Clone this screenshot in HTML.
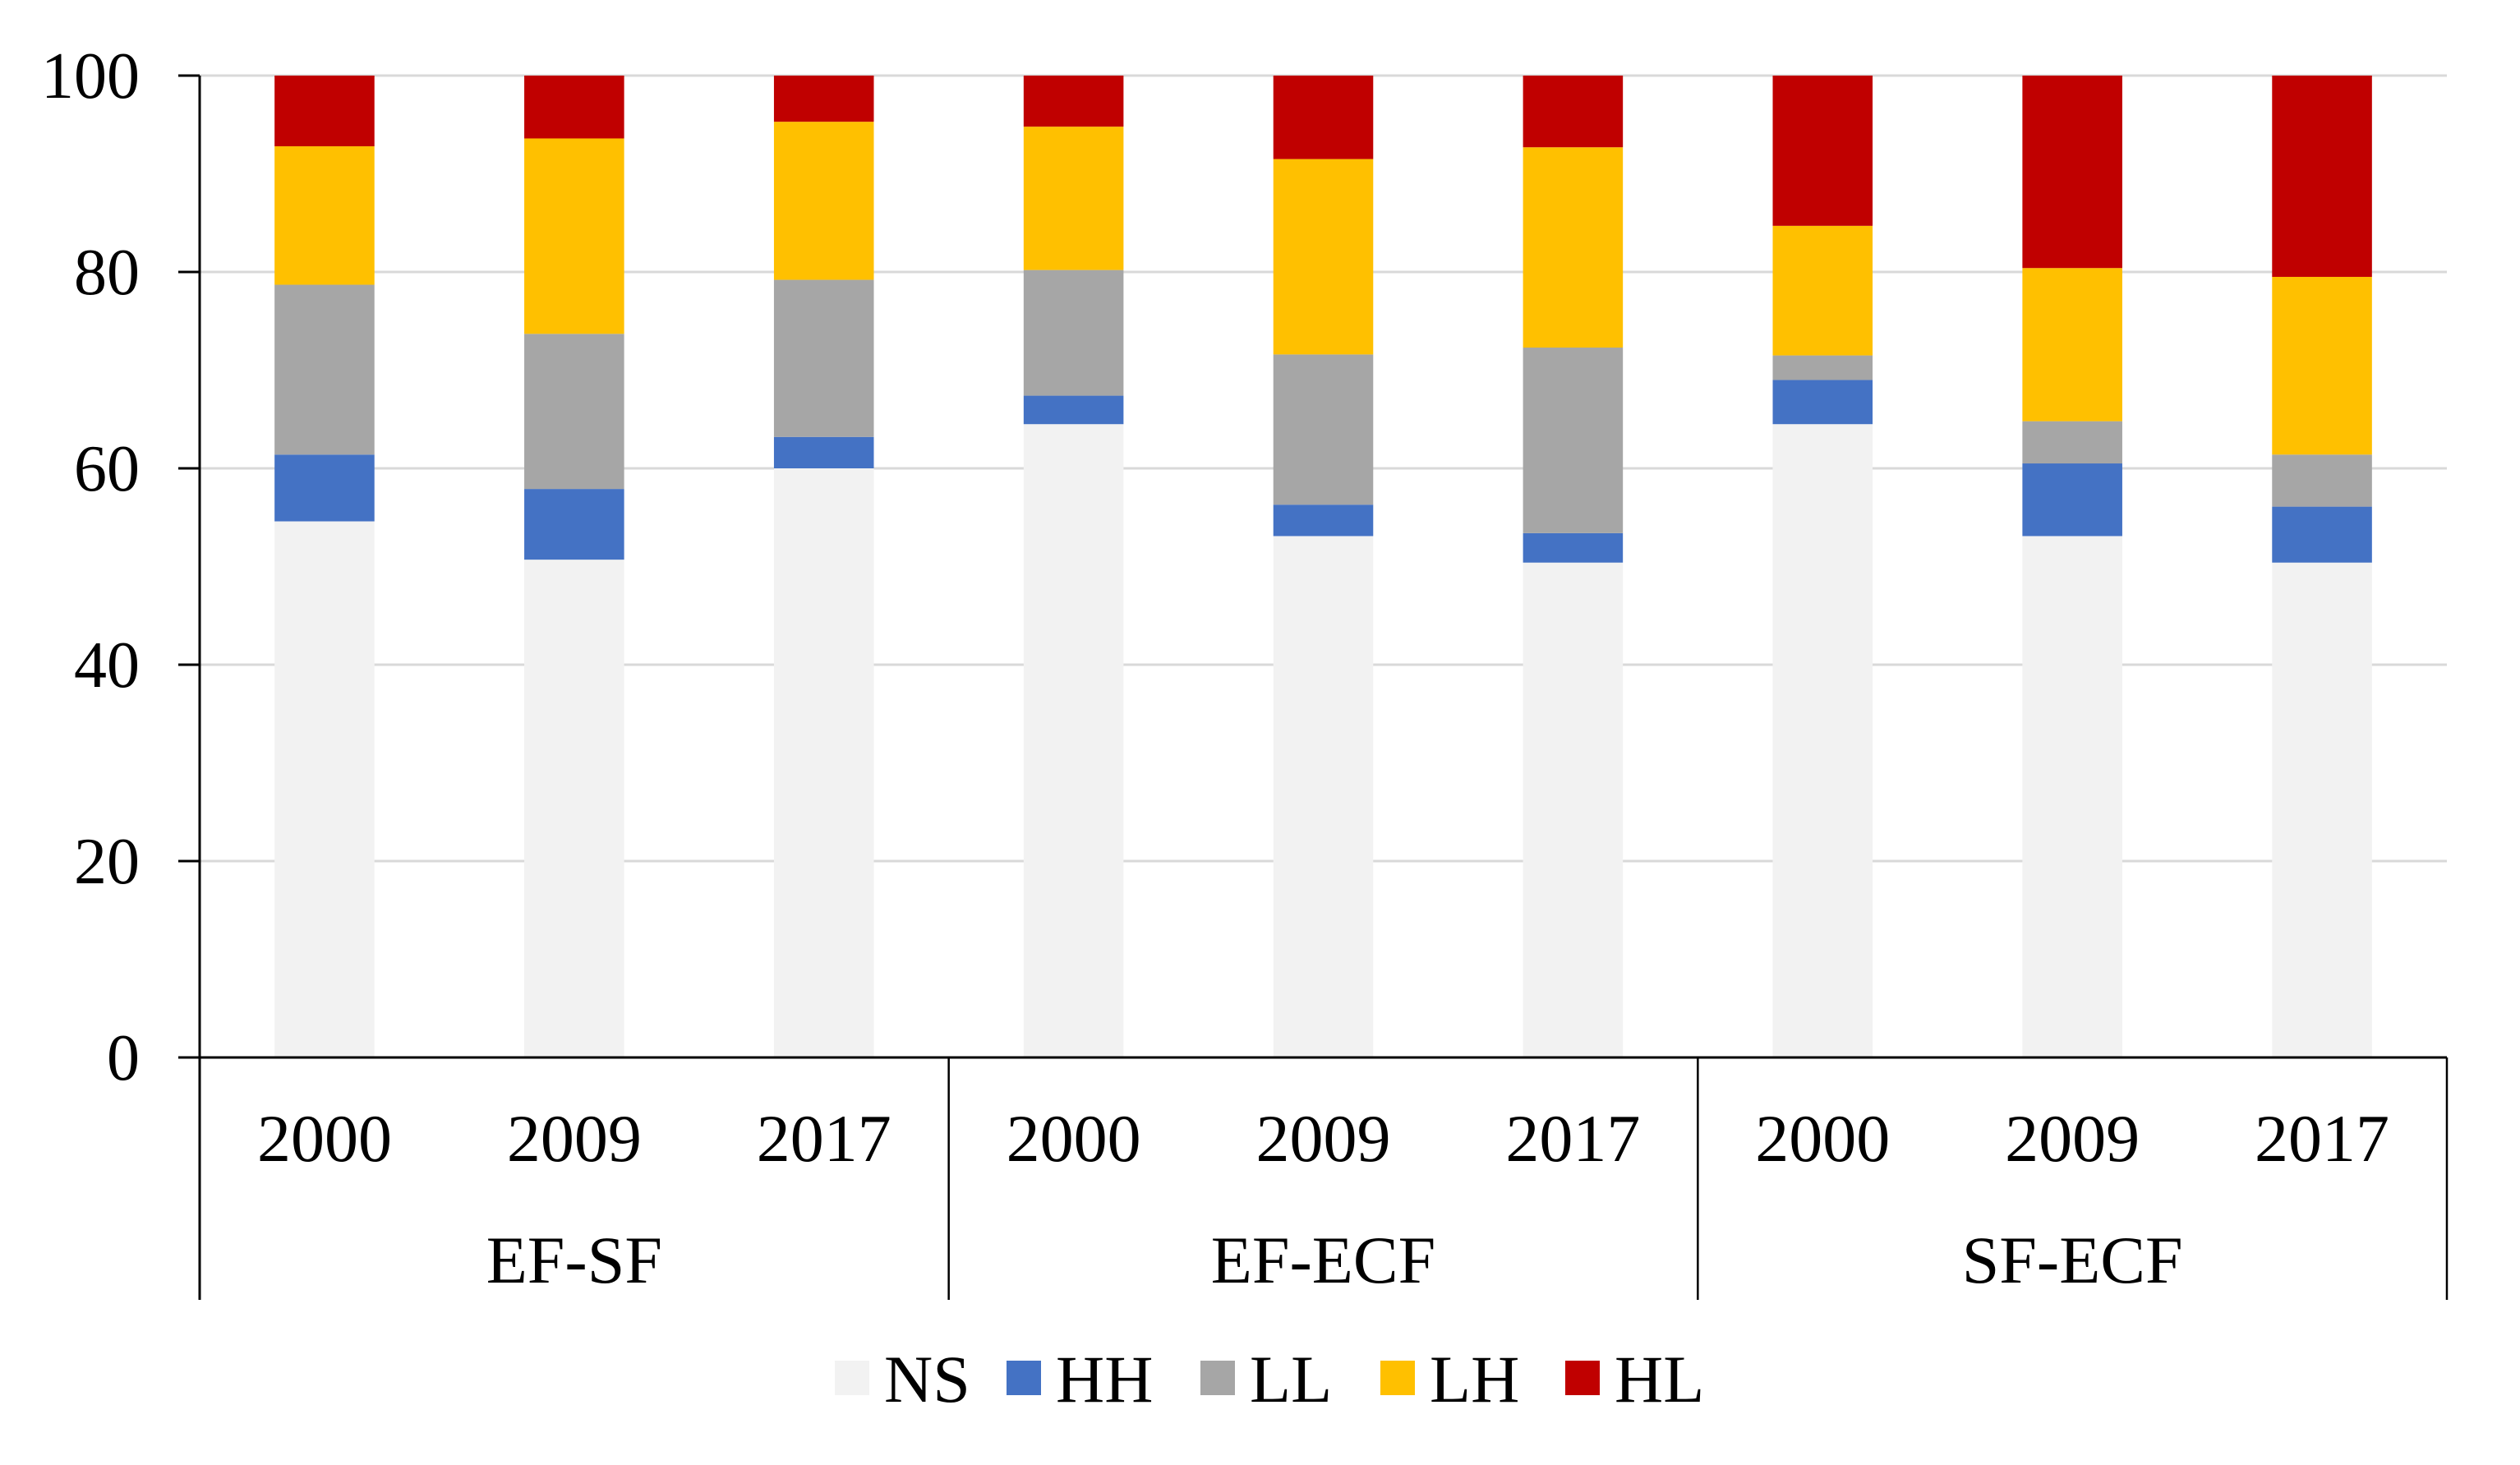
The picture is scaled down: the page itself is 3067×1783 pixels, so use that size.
<!DOCTYPE html>
<html><head><meta charset="utf-8"><style>
html,body{margin:0;padding:0;background:#fff;}
svg{display:block;font-family:"Liberation Serif",serif;}
</style></head><body>
<svg id="chart" width="3067" height="1783" viewBox="0 0 3067 1783">
<g id="grid"></g>
<g id="bars"></g>
<g id="axes"></g>
<g id="legend"></g>
</svg>
<script>
const groups = ["EF-SF","EF-ECF","SF-ECF"];
const years = ["2000","2009","2017"];
const seriesNames = ["NS","HH","LL","LH","HL"];
const seriesColors = ["#f2f2f2","#4472c4","#a6a6a6","#ffc000","#c00000"];
const NS = [54.6,50.7,60.0, 64.5,53.1,50.4, 64.5,53.1,50.4];
const HH = [6.8,7.2,3.2, 2.9,3.2,3.0, 4.5,7.4,5.7];
const LL = [17.3,15.8,16.0, 12.8,15.3,18.9, 2.5,4.3,5.3];
const LH = [14.1,19.9,16.1, 14.6,19.9,20.4, 13.2,15.6,18.1];
const HL = [7.2,6.4,4.7, 5.2,8.5,7.3, 15.3,19.6,20.5];
const yTicks = [0,20,40,60,80,100];

const NSx="http://www.w3.org/2000/svg";
const X0=243,X1=2978,Y0=1287,Y100=92,BOT=1582;
const nCat=9, catW=(X1-X0)/nCat, barW=catW*0.4;
function y(v){return Y0-(Y0-Y100)*v/100;}
function xc(i){return X0+catW*(i+0.5);}
function mk(tag,attrs,parent){const e=document.createElementNS(NSx,tag);for(const k in attrs)e.setAttribute(k,attrs[k]);parent.appendChild(e);return e;}
const grid=document.getElementById('grid'),bars=document.getElementById('bars'),axes=document.getElementById('axes'),legend=document.getElementById('legend');

yTicks.forEach(t=>{
  if(t>0){const g=mk('line',{x1:X0,x2:X1,y1:y(t),y2:y(t),stroke:'#d9d9d9','stroke-width':3},grid);
  
  }
  const tk=mk('line',{x1:217,x2:X0,y1:y(t),y2:y(t),stroke:'#000','stroke-width':3},axes);
  
  
  const tx=mk('text',{x:170,y:y(t)+27,'text-anchor':'end','font-size':80,fill:'#000'},axes);
  tx.textContent=t;
  
  
});

const data=[NS,HH,LL,LH,HL];
for(let i=0;i<nCat;i++){
  let acc=0;
  data.forEach((s,k)=>{
    const r=mk('rect',{x:xc(i)-barW/2,y:y(acc+s[i]),width:barW,height:y(acc)-y(acc+s[i]),fill:seriesColors[k]},bars);
    
    
    acc+=s[i];
  });
  const yl=mk('text',{x:xc(i),y:1413,'text-anchor':'middle','font-size':82,fill:'#000'},axes);
  yl.textContent=years[i%3];
  
  
}
const ax=mk('line',{x1:X0,x2:X1,y1:Y0,y2:Y0,stroke:'#000','stroke-width':3},axes);


const ay=mk('line',{x1:X0,x2:X0,y1:Y100,y2:BOT,stroke:'#000','stroke-width':3},axes);


for(let g=1;g<=3;g++){
  const sx=X0+catW*3*g;
  const l=mk('line',{x1:sx,x2:sx,y1:Y0,y2:BOT,stroke:'#000','stroke-width':2.5},axes);
  
  
}
groups.forEach((gname,g)=>{
  const t=mk('text',{x:X0+catW*(3*g+1.5),y:1561,'text-anchor':'middle','font-size':82,fill:'#000'},axes);
  t.textContent=gname;
  
  
});
const legX=[1016,1225,1461,1680,1905];
seriesNames.forEach((n,k)=>{
  const r=mk('rect',{x:legX[k],y:1656,width:42,height:42,fill:seriesColors[k]},legend);
  
  
  const t=mk('text',{x:legX[k]+60,y:1706,'font-size':82,fill:'#000'},legend);
  t.textContent=n;
  
  
});
</script>
</body></html>
